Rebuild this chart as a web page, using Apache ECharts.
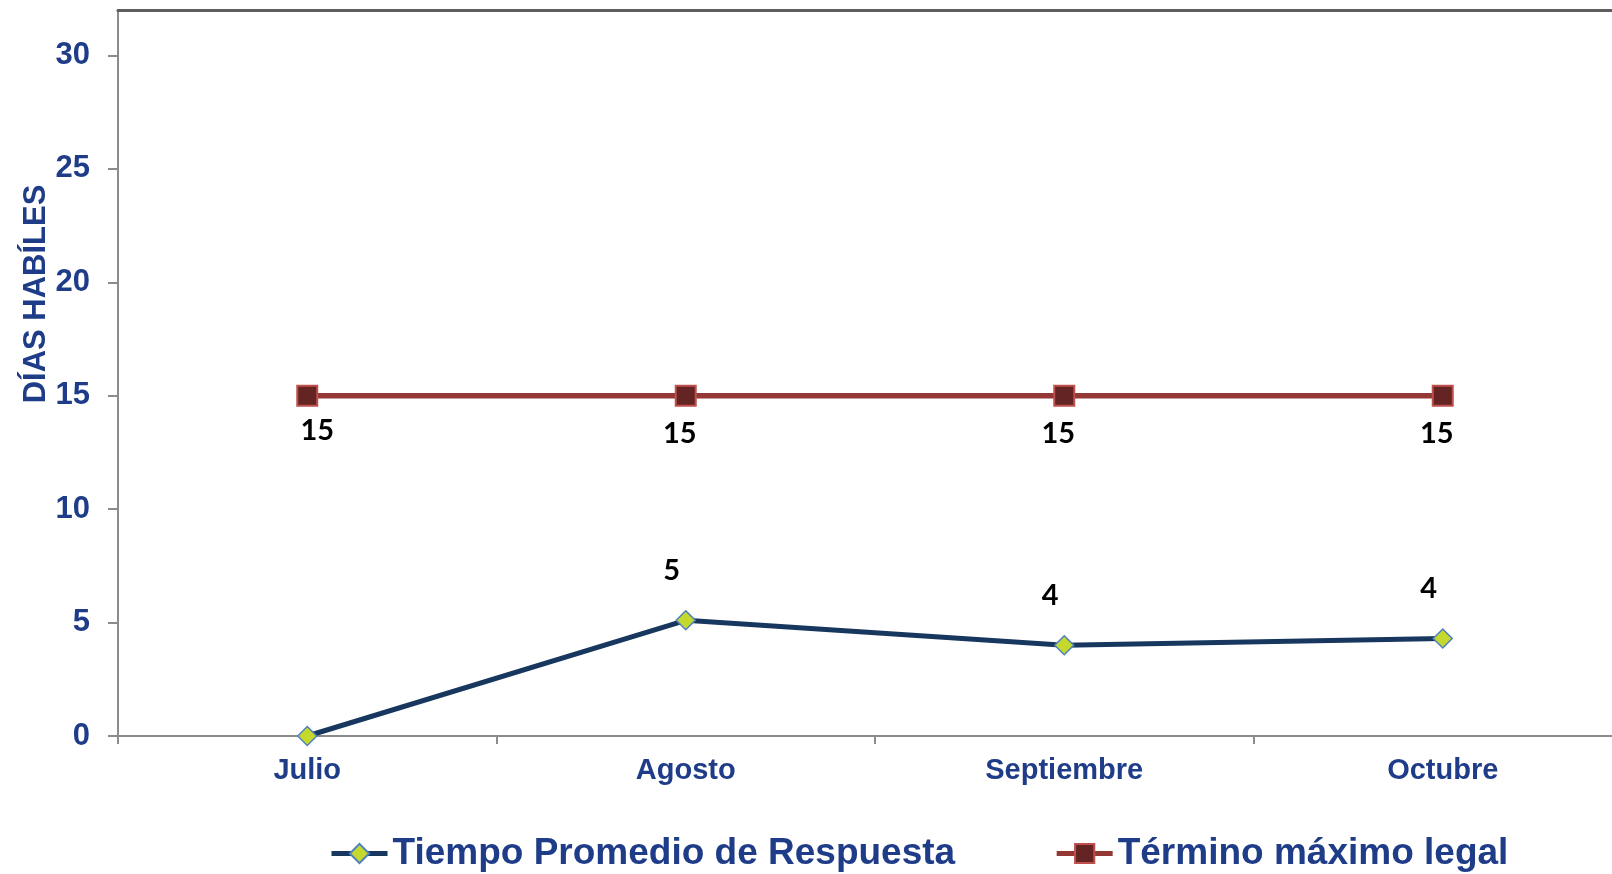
<!DOCTYPE html>
<html>
<head>
<meta charset="utf-8">
<script src="https://cdn.jsdelivr.net/npm/echarts@6/dist/echarts.min.js"></script>
<style>
  html, body { margin: 0; padding: 0; background: #fff; }
  #chart { width: 1612px; height: 874px; }
</style>
</head>
<body>
<div id="chart"></div>
<script>
// meses del periodo
const meses = ['Julio', 'Agosto', 'Septiembre', 'Octubre']
// días hábiles promedio de respuesta
const tiempoPromedio = [0, 5.1, 4.0, 4.3]
// término máximo legal
const terminoLegal = [15, 15, 15, 15]
// marcas del eje vertical (el área llega un poco más arriba de 30)
const yTicks = [0, 5, 10, 15, 20, 25, 30]
const yMax = 32

const azul = '#1F3C88'
const fuenteEjes = '"Liberation Sans", Arial, sans-serif'
const fuenteEtiquetas = 'Lato, "Open Sans", sans-serif'

// la primera etiqueta del término legal queda un poco a la derecha
const datosTermino = terminoLegal.map(function (v, i) {
  return i === 0 ? { value: v, label: { offset: [10, -3] } } : v
})

var myChart = echarts.init(document.getElementById('chart'))
let option = {
  animation: false,
  // el área de trazado sigue más allá del borde derecho de la imagen
  grid: {
    left: 118, top: 10, width: 1514, height: 726,
    containLabel: false, outerBoundsMode: 'none'
  },
  xAxis: [
    {
      type: 'category',
      data: meses,
      boundaryGap: true,
      axisLine: { lineStyle: { color: '#8C8C8C', width: 2 } },
      axisTick: { show: true, length: 8, lineStyle: { color: '#8C8C8C', width: 2 } },
      axisLabel: {
        color: azul, fontFamily: fuenteEjes, fontWeight: 'bold', fontSize: 29, margin: 20
      },
      splitLine: { show: false }
    },
    {
      // borde superior del área de trazado
      type: 'category',
      position: 'top',
      data: meses,
      axisLine: { lineStyle: { color: '#5E5E5E', width: 3 } },
      axisTick: { show: false },
      axisLabel: { show: false },
      splitLine: { show: false }
    }
  ],
  yAxis: {
    type: 'value',
    min: 0,
    max: yMax,
    name: 'DÍAS HABÍLES',
    nameLocation: 'middle',
    nameRotate: 90,
    nameGap: 66,
    nameMoveOverlap: false,
    nameTextStyle: {
      color: azul, fontFamily: fuenteEjes, fontWeight: 'bold', fontSize: 31,
      padding: [0, 0, 0, 158]
    },
    axisLine: { show: true, lineStyle: { color: '#8C8C8C', width: 2 } },
    axisTick: {
      show: true, length: 10, customValues: yTicks,
      lineStyle: { color: '#8C8C8C', width: 2 }
    },
    axisLabel: {
      customValues: yTicks,
      color: azul, fontFamily: fuenteEjes, fontWeight: 'bold', fontSize: 31, margin: 28
    },
    splitLine: { show: false }
  },
  legend: {
    left: 324,
    top: 830,
    itemGap: 99,
    itemWidth: 56,
    itemHeight: 24,
    lineStyle: { width: 5 },
    textStyle: { color: azul, fontFamily: fuenteEjes, fontWeight: 'bold', fontSize: 37 },
    data: ['Tiempo Promedio de Respuesta', 'Término máximo legal']
  },
  series: [
    {
      name: 'Tiempo Promedio de Respuesta',
      type: 'line',
      data: tiempoPromedio,
      symbol: 'diamond',
      symbolSize: 19,
      lineStyle: { color: '#17375E', width: 5 },
      itemStyle: { color: '#C4D82E', borderColor: '#4F81BD', borderWidth: 1.5 },
      label: {
        show: true,
        position: 'top',
        distance: 25,
        offset: [-14, 0],
        color: '#000',
        fontFamily: fuenteEtiquetas,
        fontWeight: 'bold',
        fontSize: 29,
        formatter: function (p) {
          return p.value === 0 ? '' : Math.round(p.value)
        }
      },
      z: 3
    },
    {
      name: 'Término máximo legal',
      type: 'line',
      data: datosTermino,
      symbol: 'rect',
      symbolSize: 20,
      lineStyle: { color: '#953735', width: 5.5 },
      itemStyle: { color: '#632423', borderColor: '#C0504D', borderWidth: 2 },
      label: {
        show: true,
        position: 'bottom',
        distance: 12,
        offset: [-6, 0],
        color: '#000',
        fontFamily: fuenteEtiquetas,
        fontWeight: 'bold',
        fontSize: 29
      },
      z: 2
    }
  ]
}
myChart.setOption(option, true)
</script>
</body>
</html>
